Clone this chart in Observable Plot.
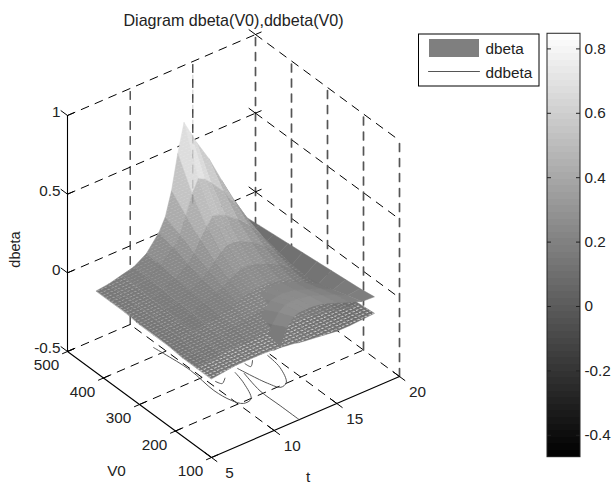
<!DOCTYPE html>
<html><head><meta charset="utf-8">
<style>html,body{margin:0;padding:0;background:#fff}svg{display:block}</style>
<script src="https://cdn.jsdelivr.net/npm/d3@7"></script>
<script src="https://cdn.jsdelivr.net/npm/@observablehq/plot@0.6"></script>
</head><body><div id="c"></div>
<script>
// grid of the surfaces
const tGrid = [5,6,7,8,9,10,10.5,11,11.5,12,12.5,13,14,15,16,17,18];
const v0Grid = [100,140,180,220,260,300,340,380,420];
const v0GridUpper = [100,140,180,220,260,300,340,380,420,460];
const tGridUpper = [10,10.5,11,11.5,12,12.5,13,14,15,16,17,18];
// peak sheet: one row per V0
const sheet100 = [0,.01,.02,.02,.02,.015,.01,.005,0,-.01,-.015,-.02,-.03,-.04,-.04,-.035,-.03];
const sheet140 = [0,.01,.02,.03,.03,.04,.04,.04,.04,.04,.03,.03,.02,.01,-.01,-.03,-.04];
const sheet180 = [0,.01,.03,.04,.05,.06,.07,.08,.08,.08,.08,.08,.07,.04,.01,-.03,-.05];
const sheet220 = [.01,.02,.03,.04,.06,.08,.09,.11,.12,.13,.13,.13,.11,.08,.03,-.03,-.08];
const sheet260 = [.01,.02,.03,.05,.07,.10,.12,.15,.17,.19,.19,.18,.15,.11,.05,-.02,-.10];
const sheet300 = [.01,.02,.04,.05,.08,.12,.16,.20,.24,.27,.27,.26,.22,.16,.08,-.01,-.12];
const sheet340 = [.02,.03,.04,.06,.09,.15,.20,.27,.34,.39,.38,.36,.30,.22,.12,.01,-.12];
const sheet380 = [.02,.03,.05,.07,.11,.19,.26,.36,.48,.56,.54,.50,.41,.29,.16,.03,-.11];
const sheet420 = [.02,.03,.05,.07,.12,.22,.30,.45,.67,.85,.77,.69,.55,.38,.22,.06,-.10];
// flatter sheet that lies over it on the right
const upper100 = [.01,.012,.12,.17,.185,.185,.185,.17,.14,.11,.08,.075];
const upper140 = [-.03,-.02,.07,.13,.16,.165,.165,.15,.12,.09,.05,.06];
const upper180 = [-.1,-.05,.03,.08,.12,.13,.135,.12,.09,.06,.02,.05];
const upper220 = [-.1,-.07,0,.04,.08,.1,.11,.1,.07,.03,-.01,.04];
const upper260 = [-.1,-.08,-.02,.02,.05,.07,.08,.07,.05,.01,-.03,.03];
const upper300 = [-.1,-.08,-.04,0,.03,.05,.06,.05,.03,0,-.04,.02];
const upper340 = [-.1,-.08,-.05,-.02,.01,.03,.04,.03,.02,-.01,-.04,.01];
const upper380 = [-.1,-.08,-.06,-.03,0,.01,.02,.02,.01,-.01,-.04,0];
const upper420 = [-.1,-.08,-.06,-.04,-.02,0,.01,.01,0,-.01,-.04,-.01];
const upper460 = [-.1,-.09,-.07,-.05,-.03,-.01,0,0,-.01,-.02,-.03,-.02];
const sheetRows = [sheet100,sheet140,sheet180,sheet220,sheet260,sheet300,sheet340,sheet380,sheet420];
const upperRows = [upper100,upper140,upper180,upper220,upper260,upper300,upper340,upper380,upper420,upper460];
// ddbeta traces: [t, V0]
const traceA = [[9.6,421],[9.7,397],[9.9,329],[9.7,257],[9.9,216],[10.3,196],[11,199],[11.7,243],[12,278]];
const traceB = [[12.4,285],[12.9,219],[13.3,196],[13.9,202],[14.6,244],[14.8,285]];
const traceC = [[12.4,267],[12,209],[12,153],[12,100]];
const traceD = [[10.4,277],[10.6,265],[11.1,275]];
const traceE = [[13.1,289],[13.2,276],[13.7,289]];
const traces = [traceA,traceB,traceC,traceD,traceE];
// axes
const tTicks = [5,10,15,20];
const v0Ticks = [100,200,300,400,500];
const zTicks = [-0.5,0,0.5,1];
const zTickLabels = ["-0.5","0","0.5","1"];
const barTicks = [0.8,0.6,0.4,0.2,0,-0.2,-0.4];
const barTickLabels = ["0.8","0.6","0.4","0.2","0","-0.2","-0.4"];
const title = "Diagram dbeta(V0),ddbeta(V0)";
const legendLabels = ["dbeta","ddbeta"];
const zRange = [-0.468,0.847];

const FONT = "Liberation Sans, Arial, sans-serif", FS = 15.3;
// orthographic view of the box
const P = (t,v,z) => {
  const a=(t-5)/15, b=(v-100)/400, c=(z+0.5)/1.5;
  return {x:188*a-144*b, y:81*a+106*b+236*c, t, v, z};
};
const depth = (t,v) => -34*(t-5)/15 - 44*(v-100)/400;
// screen helpers for chart furniture
const sx = x => x-211, sy = y => 457-y;

// surface cells, painted far to near
const quads=[];
function addSheet(ts,vs,rows,layer){
  for(let j=0;j<vs.length-1;j++) for(let i=0;i<ts.length-1;i++){
    const zs=[rows[j][i],rows[j][i+1],rows[j+1][i+1],rows[j+1][i]];
    const mz=d3.mean(zs), tc=(ts[i]+ts[i+1])/2, vc=(vs[j]+vs[j+1])/2;
    quads.push({pts:[P(ts[i],vs[j],zs[0]),P(ts[i+1],vs[j],zs[1]),P(ts[i+1],vs[j+1],zs[2]),P(ts[i],vs[j+1],zs[3])],
      mz,layer,tc,vc,d:depth(tc,vc)});
  }
}
addSheet(tGrid,v0Grid,sheetRows,0);
addSheet(tGridUpper,v0GridUpper,upperRows,1);
quads.sort((p,q)=>d3.ascending(Math.round(p.d*2)/2,Math.round(q.d*2)/2)||d3.ascending(p.mz,q.mz));
const cellPts=[];
quads.forEach((q,id)=>q.pts.forEach(p=>cellPts.push({x:p.x,y:p.y,id,v:q.mz})));

const seg=(a,b)=>[a,b];
const grid=[], gridHeavy=[], axes=[], ticks=[];
tTicks.forEach(t=>{ if(t>5) grid.push(seg(P(t,100,-.5),P(t,500,-.5))); });
v0Ticks.forEach(v=>{ if(v>100) grid.push(seg(P(5,v,-.5),P(20,v,-.5))); });
zTicks.forEach(z=>{ if(z>-.5){ grid.push(seg(P(5,500,z),P(20,500,z))); grid.push(seg(P(20,500,z),P(20,100,z))); }});
tTicks.forEach(t=>{ if(t>5&&t<20) grid.push(seg(P(t,500,-.5),P(t,500,1))); });
v0Ticks.forEach(v=>gridHeavy.push(seg(P(20,v,-.5),P(20,v,1))));
axes.push(seg(P(5,500,-.5),P(5,500,1)),seg(P(5,100,-.5),P(5,500,-.5)),seg(P(5,100,-.5),P(20,100,-.5)));
v0Ticks.forEach(v=>ticks.push(seg(P(4.6,v,-.5),P(5.5,v,-.5))));
tTicks.forEach(t=>ticks.push(seg(P(t,85,-.5),P(t,118,-.5))));
zTicks.forEach(z=>{
  ticks.push(seg(P(5,500,z),P(5.5,500,z)),seg(P(5,500,z),P(5,518,z)));
  ticks.push(seg(P(20,500,z),P(20.45,500,z)),seg(P(20,500,z),P(20,518,z)));
});
const flat=(arr)=>arr.flatMap((s,i)=>s.map(p=>({x:p.x,y:p.y,id:i})));
const traceF=traces.flatMap((tr,i)=>tr.map(([t,v])=>({...P(t,v,-.5),id:i})));

// colour bar bands
const barY=z=>sy(306-322*z);
const nBands=64, bands=d3.range(nBands).map(i=>({
  lo:zRange[0]+(zRange[1]-zRange[0])*i/nBands,
  hi:zRange[0]+(zRange[1]-zRange[0])*(i+1)/nBands,
  g:Math.round(255*(i+.5)/nBands)
}));
const barL=sx(547), barR=sx(580);
const seeThrough=[seg(P(15,500,.1),P(15,500,.95))];

const chart=Plot.plot({
  width:611,height:484,marginTop:0,marginRight:0,marginBottom:0,marginLeft:0,
  x:{type:"linear",domain:[-211,400],range:[0,611],axis:null},
  y:{type:"linear",domain:[-27,457],range:[484,0],axis:null},
  color:{type:"linear",domain:zRange,range:["#262626","#ffffff"],clamp:true},
  style:{background:"#fff",fontFamily:FONT,fontSize:FS+"px"},
  marks:[
    Plot.line(flat(grid),{x:"x",y:"y",z:"id",stroke:"#000",strokeWidth:1,strokeDasharray:"8 7"}),
    Plot.line(flat(gridHeavy),{x:"x",y:"y",z:"id",stroke:"#555",strokeWidth:1.7,strokeDasharray:"8 7"}),
    Plot.line(flat(axes),{x:"x",y:"y",z:"id",stroke:"#000",strokeWidth:1.1}),
    Plot.line(flat(ticks),{x:"x",y:"y",z:"id",stroke:"#000",strokeWidth:1}),
    Plot.line(traceF,{x:"x",y:"y",z:"id",stroke:"#555",strokeWidth:1,curve:"catmull-rom"}),
    Plot.line(cellPts,{x:"x",y:"y",z:"id",fill:"v",stroke:"v",strokeWidth:.5,curve:"linear-closed",className:"cells"}),
    Plot.line(flat(seeThrough),{x:"x",y:"y",z:"id",stroke:"#000",strokeOpacity:.2,strokeWidth:1,strokeDasharray:"8 7"}),
    // tick labels
    Plot.text(tTicks,{x:t=>P(t,100,-.5).x,y:t=>P(t,100,-.5).y,text:String,dx:18,dy:16,fontSize:FS,fill:"#222"}),
    Plot.text(v0Ticks,{x:v=>P(5,v,-.5).x,y:v=>P(5,v,-.5).y,text:String,dx:-21,dy:14,fontSize:FS,fill:"#222"}),
    Plot.text(zTicks,{x:z=>P(5,500,z).x,y:z=>P(5,500,z).y,text:(z,i)=>zTickLabels[i],dx:-7,dy:-3,textAnchor:"end",fontSize:FS,fill:"#222"}),
    Plot.text(["V0"],{x:()=>P(5,200,-.5).x,y:()=>P(5,200,-.5).y,dx:-59,dy:40,fontSize:FS,fill:"#222"}),
    Plot.text(["t"],{x:()=>P(10,100,-.5).x,y:()=>P(10,100,-.5).y,dx:34,dy:47,fontSize:FS,fill:"#222"}),
    Plot.text(["dbeta"],{x:()=>sx(15),y:()=>sy(249),rotate:-90,fontSize:FS-.8,fill:"#222"}),
    Plot.text([title],{x:()=>sx(233),y:()=>sy(20),fontSize:16.1,fill:"#222"}),
    // legend
    Plot.rect([0],{x1:()=>sx(418.5),x2:()=>sx(539),y1:()=>sy(34),y2:()=>sy(86),fill:"#fff",stroke:"#000",strokeWidth:1}),
    Plot.rect([0],{x1:()=>sx(429),x2:()=>sx(479),y1:()=>sy(39),y2:()=>sy(57),fill:"#7f7f7f"}),
    Plot.line([[sx(428),sy(71)],[sx(479),sy(71)]],{stroke:"#555",strokeWidth:1}),
    Plot.text(legendLabels,{x:()=>sx(485),y:(d,i)=>sy(i?73:49),text:d=>d,textAnchor:"start",fontSize:FS,fill:"#222"}),
    // colour bar
    Plot.rect(bands,{x1:()=>barL,x2:()=>barR,y1:d=>barY(d.lo),y2:d=>barY(d.hi),fill:d=>`rgb(${d.g},${d.g},${d.g})`,shapeRendering:"crispEdges"}),
    Plot.rect([0],{x1:()=>barL,x2:()=>barR,y1:()=>barY(zRange[0]),y2:()=>barY(zRange[1]),fill:"none",stroke:"#222",strokeWidth:1}),
    Plot.ruleY(barTicks,{y:barY,x1:()=>barL,x2:()=>barL+4,stroke:"#222"}),
    Plot.ruleY(barTicks,{y:barY,x1:()=>barR-4,x2:()=>barR,stroke:"#222"}),
    Plot.text(barTicks,{x:()=>barR,y:barY,text:(d,i)=>barTickLabels[i],dx:4,textAnchor:"start",fontSize:FS,fill:"#222"})
  ]
});
// mesh texture: a fine lattice laid along the t and V0 directions of each visible facet
const NS="http://www.w3.org/2000/svg";
const defs=document.createElementNS(NS,"defs");
[["meshStrong",.65,.34],["meshMid",.32,.3],["meshLight",.16,.26]].forEach(([id,op,w])=>{
  const p=document.createElementNS(NS,"pattern");
  p.setAttribute("id",id);p.setAttribute("patternUnits","userSpaceOnUse");
  p.setAttribute("width",1);p.setAttribute("height",1);
  p.setAttribute("patternTransform","matrix(3.76,-1.62,-2.88,-2.12,0,0)");
  const r=document.createElementNS(NS,"rect");
  r.setAttribute("x",0);r.setAttribute("y",0);r.setAttribute("width",.62);r.setAttribute("height",w);
  r.setAttribute("fill","#fff");r.setAttribute("fill-opacity",op);
  p.appendChild(r);defs.appendChild(p);
});
chart.insertBefore(defs,chart.firstChild);
const paths=[...chart.querySelectorAll(".cells path")];
paths.forEach((path,i)=>{
  const q=quads[i]; if(!q||q.layer!==0) return;
  const strong=q.vc<=140;
  const mid=q.tc<7||q.vc<=220;
  const c=path.cloneNode(false);
  c.setAttribute("fill",`url(#${strong?"meshStrong":mid?"meshMid":"meshLight"})`);
  c.setAttribute("stroke","none");
  path.after(c);
});
document.getElementById("c").appendChild(chart);
</script></body></html>
